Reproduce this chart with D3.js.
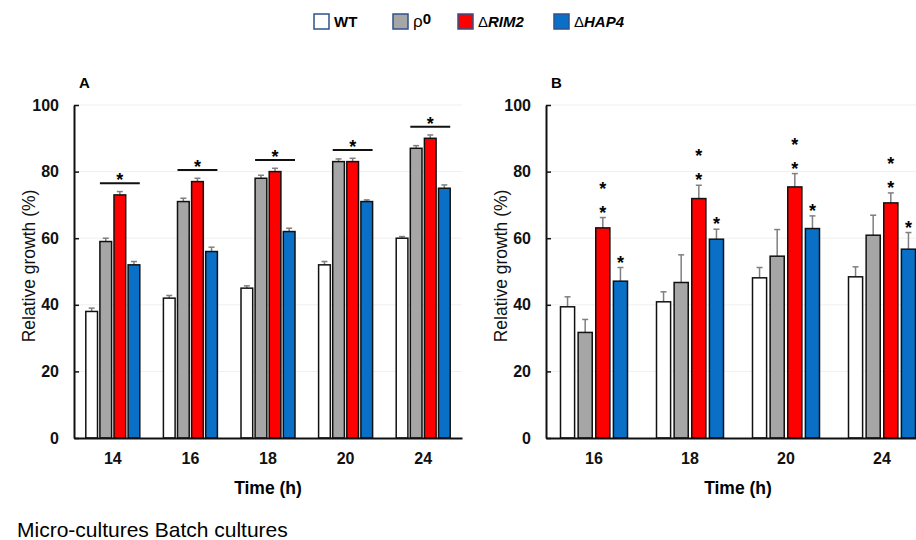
<!DOCTYPE html>
<html>
<head>
<meta charset="utf-8">
<script src="https://cdn.jsdelivr.net/npm/d3@7"></script>
<style>
  body { margin: 0; background: #fff; }
  svg { display: block; font-family: Arial, "Liberation Sans", sans-serif; }
</style>
</head>
<body>
<div id="chart"></div>
<script>
// strains (legend order)
var strains = ["WT", "ρ0", "ΔRIM2", "ΔHAP4"];
var colors = ["#ffffff", "#a6a6a6", "#ff0000", "#0a6fc7"];

// A - micro-cultures
var timesA = ["14", "16", "18", "20", "24"];
var wtA    = [38, 42, 45, 52, 60];
var rho0A  = [59, 71, 78, 83, 87];
var rim2A  = [73, 77, 80, 83, 90];
var hap4A  = [52, 56, 62, 71, 75];
var wtErrA   = [1, 0.8, 0.7, 1, 0.5];
var rho0ErrA = [1, 1, 0.9, 0.8, 0.8];
var rim2ErrA = [1, 1, 1, 1, 1];
var hap4ErrA = [1, 1.3, 1, 0.5, 1];
var sigA = [1, 1, 1, 1, 1];

// B - batch cultures
var timesB = ["16", "18", "20", "24"];
var wtB    = [39.4, 40.9, 48.1, 48.4];
var rho0B  = [31.7, 46.7, 54.6, 60.9];
var rim2B  = [63.1, 71.9, 75.4, 70.6];
var hap4B  = [47.1, 59.7, 62.9, 56.7];
var wtErrB   = [3, 3, 3.1, 3];
var rho0ErrB = [3.9, 8.3, 8, 6];
var rim2ErrB = [3.1, 4, 4, 3];
var hap4ErrB = [4.1, 3, 3.8, 5];
// number of asterisks above each bar
var starsB = [[0,0,0,0], [0,0,0,0], [2,2,2,2], [1,1,1,1]];

var yTicks = [0, 20, 40, 60, 80, 100];

var width = 916, height = 540;
var svg = d3.select("#chart").append("svg")
  .attr("width", width)
  .attr("height", height);

var y = d3.scaleLinear().domain([0, 100]).range([438, 105]);

// legend
var legendX = [314, 393, 458, 554];
var legend = svg.append("g").selectAll("g")
  .data(strains)
  .enter().append("g")
  .attr("transform", function(d, i){ return "translate(" + legendX[i] + ",14)"; });
legend.append("rect")
  .attr("width", 15).attr("height", 15)
  .attr("fill", function(d, i){ return colors[i]; })
  .attr("stroke", "#2f528f").attr("stroke-width", 1.5);
legend.append("text")
  .attr("x", 20).attr("y", 13)
  .attr("font-size", 15)
  .each(function(d){
    var t = d3.select(this);
    if(d.charAt(0) == "Δ"){
      t.append("tspan").text("Δ");
      t.append("tspan").attr("font-weight", "bold").attr("font-style", "italic").text(d.slice(1));
    } else if(d.charAt(0) == "ρ"){
      t.append("tspan").attr("font-size", 17).text("ρ");
      t.append("tspan").attr("font-weight", "bold").attr("dy", -3).text(d.slice(1));
    } else {
      t.attr("font-weight", "bold").text(d);
    }
  });

function drawPanel(opt){
  var g = svg.append("g");
  var x = d3.scaleBand().domain(opt.times).range([opt.x0, opt.x1]);
  var inner = d3.scaleBand().domain(strains)
    .range([-opt.groupW / 2, opt.groupW / 2])
    .paddingInner(opt.pad);

  // faint gridlines
  g.append("g").selectAll("line")
    .data(yTicks.slice(1))
    .enter().append("line")
    .attr("x1", opt.x0).attr("x2", opt.x1)
    .attr("y1", function(d){ return y(d); })
    .attr("y2", function(d){ return y(d); })
    .attr("stroke", "#efefef");

  var series = opt.values.map(function(vals, s){
    return vals.map(function(v, i){
      return { s: s, t: opt.times[i], v: v, e: opt.errs[s][i], i: i };
    });
  });
  var flat = [].concat.apply([], series);

  function cx(d){ return x(d.t) + x.bandwidth()/2 + inner(strains[d.s]) + inner.bandwidth()/2; }

  // error bars (upper whisker only)
  var eb = g.append("g").attr("stroke", "#7f7f7f").attr("stroke-width", 1.5);
  eb.selectAll("line.w").data(flat).enter().append("line")
    .attr("x1", cx).attr("x2", cx)
    .attr("y1", function(d){ return y(d.v); })
    .attr("y2", function(d){ return y(d.v + d.e); });
  eb.selectAll("line.c").data(flat).enter().append("line")
    .attr("x1", function(d){ return cx(d) - 3; })
    .attr("x2", function(d){ return cx(d) + 3; })
    .attr("y1", function(d){ return y(d.v + d.e); })
    .attr("y2", function(d){ return y(d.v + d.e); });

  // bars
  g.append("g").selectAll("rect")
    .data(flat)
    .enter().append("rect")
    .attr("x", function(d){ return x(d.t) + x.bandwidth()/2 + inner(strains[d.s]); })
    .attr("y", function(d){ return y(d.v); })
    .attr("width", inner.bandwidth())
    .attr("height", function(d){ return y(0) - y(d.v); })
    .attr("fill", function(d){ return colors[d.s]; })
    .attr("stroke", "#111").attr("stroke-width", 1.5);

  // axes
  var yAxis = g.append("g")
    .attr("transform", "translate(" + opt.x0 + ",0)")
    .call(d3.axisLeft(y).tickValues(yTicks).tickSizeInner(-5).tickSizeOuter(0).tickPadding(15));
  yAxis.select(".domain").attr("stroke", "#111").attr("stroke-width", 2);
  yAxis.selectAll(".tick line").attr("stroke", "#111").attr("stroke-width", 1.5);
  yAxis.selectAll("text").attr("font-size", 16).attr("font-weight", "bold")
    .attr("font-family", "Arial, 'Liberation Sans', sans-serif").attr("fill", "#111");

  var xAxis = g.append("g")
    .attr("transform", "translate(0," + y(0) + ")")
    .call(d3.axisBottom(x).tickSize(0).tickPadding(15));
  xAxis.select(".domain").attr("stroke", "#111").attr("stroke-width", 2);
  xAxis.selectAll("text").attr("font-size", 16).attr("font-weight", "bold")
    .attr("font-family", "Arial, 'Liberation Sans', sans-serif").attr("fill", "#111");

  g.append("text")
    .attr("x", (opt.x0 + opt.x1) / 2).attr("y", 494)
    .attr("text-anchor", "middle")
    .attr("font-size", 17.5).attr("font-weight", "bold")
    .text("Time (h)");

  g.append("text")
    .attr("transform", "translate(" + (opt.x0 - 45) + ",266) rotate(-90)")
    .attr("text-anchor", "middle")
    .attr("dy", "0.35em")
    .attr("font-size", 17.5).attr("fill", "#111")
    .text("Relative growth (%)");

  g.append("text")
    .attr("x", opt.x0 + 5).attr("y", 88)
    .attr("font-size", 15).attr("font-weight", "bold")
    .text(opt.label);

  return { g: g, x: x, inner: inner, series: series };
}

// panel A
var pA = drawPanel({
  times: timesA, x0: 74, x1: 462, groupW: 54, pad: 0.17, label: "A",
  values: [wtA, rho0A, rim2A, hap4A],
  errs: [wtErrA, rho0ErrA, rim2ErrA, hap4ErrA]
});

// significance brackets over ρ0 .. ΔHAP4
var sig = pA.g.append("g").selectAll("g")
  .data(timesA.filter(function(t, i){ return sigA[i]; }))
  .enter().append("g");
function bracketY(t){
  var i = timesA.indexOf(t);
  var top = d3.max([rho0A[i] + rho0ErrA[i], rim2A[i] + rim2ErrA[i], hap4A[i] + hap4ErrA[i]]);
  return y(top + 2.5);
}
sig.append("line")
  .attr("x1", function(t){ return pA.x(t) + pA.x.bandwidth()/2 + pA.inner(strains[1]); })
  .attr("x2", function(t){ return pA.x(t) + pA.x.bandwidth()/2 + pA.inner(strains[3]) + pA.inner.bandwidth(); })
  .attr("y1", bracketY).attr("y2", bracketY)
  .attr("stroke", "#111").attr("stroke-width", 2);
sig.append("text")
  .attr("x", function(t){
    return pA.x(t) + pA.x.bandwidth()/2 + (pA.inner(strains[1]) + pA.inner(strains[3]) + pA.inner.bandwidth()) / 2;
  })
  .attr("y", function(t){ return bracketY(t) + 3; })
  .attr("text-anchor", "middle")
  .attr("font-size", 18).attr("font-weight", "bold")
  .text("*");

// panel B
var pB = drawPanel({
  times: timesB, x0: 546, x1: 930, groupW: 67, pad: 0.2, label: "B",
  values: [wtB, rho0B, rim2B, hap4B],
  errs: [wtErrB, rho0ErrB, rim2ErrB, hap4ErrB]
});

var starData = [];
pB.series.forEach(function(ser){
  ser.forEach(function(d){
    for(var k = 0; k < starsB[d.s][d.i]; k++)
      starData.push({ d: d, k: k });
  });
});
pB.g.append("g").selectAll("text")
  .data(starData)
  .enter().append("text")
  .attr("x", function(o){ return pB.x(o.d.t) + pB.x.bandwidth()/2 + pB.inner(strains[o.d.s]) + pB.inner.bandwidth()/2; })
  .attr("y", function(o){ return y(o.d.v + o.d.e) + 1 - o.k * 24; })
  .attr("text-anchor", "middle")
  .attr("font-size", 18).attr("font-weight", "bold")
  .text("*");

svg.append("text")
  .attr("x", 17).attr("y", 537)
  .attr("font-size", 21)
  .attr("font-family", "Arial, 'Liberation Sans', sans-serif")
  .text("Micro-cultures Batch cultures");
</script>
</body>
</html>
